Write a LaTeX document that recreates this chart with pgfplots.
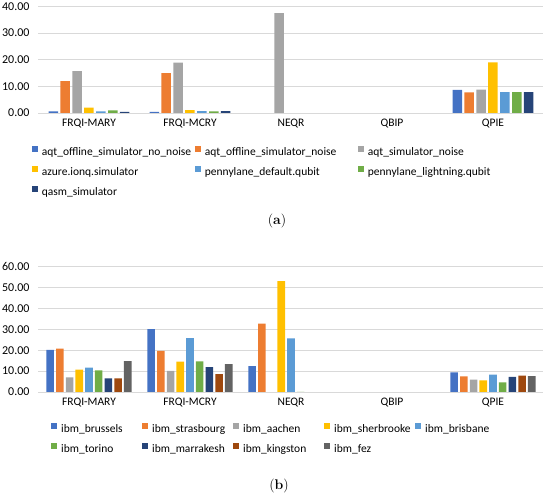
\documentclass[border=0pt]{standalone}
\usepackage{fontspec}
\setsansfont{Carlito}
\usepackage{pgfplots}
\pgfplotsset{compat=1.18}
\definecolor{cA}{HTML}{4472C4}
\definecolor{cB}{HTML}{ED7D31}
\definecolor{cC}{HTML}{A5A5A5}
\definecolor{cD}{HTML}{FFC000}
\definecolor{cE}{HTML}{5B9BD5}
\definecolor{cF}{HTML}{70AD47}
\definecolor{cG}{HTML}{264478}
\definecolor{cH}{HTML}{9E480E}
\definecolor{cI}{HTML}{636363}
\definecolor{gridc}{HTML}{D9D9D9}
\newcommand{\chartfont}{\sffamily\fontsize{11.5}{13}\selectfont}
\newcommand{\tickfont}{\sffamily\fontsize{12}{14}\selectfont}
\pgfplotsset{
  sqleg/.style={draw=none, legend image code/.code={\fill[##1] (0pt,0pt) rectangle (6pt,6pt);}},
  common/.style={
    scale only axis, width=505pt,
    xmin=-0.5, xmax=4.5, ymin=0,
    xtick={0,1,2,3,4},
    xticklabels={FRQI-MARY,FRQI-MCRY,NEQR,QBIP,QPIE},
    axis line style={draw=none},
    major tick length=0pt,
    ymajorgrids, grid style={gridc, line width=0.9pt},
    tick label style={font=\tickfont},
    xticklabel style={font=\chartfont},
    yticklabel style={xshift=-5.5pt, /pgf/number format/.cd, fixed, fixed zerofill, precision=2, assume math mode=true},
    xticklabel style={yshift=-2.5pt},
    legend cell align=left,
    legend style={draw=none, fill=none, inner sep=0pt, anchor=north west, font=\chartfont,
      nodes={inner ysep=0pt, inner xsep=4pt, text height=10pt, text depth=3pt},
      /tikz/row sep=7pt},
  }
}
\begin{document}
\begin{tikzpicture}
\useasboundingbox (0,0) rectangle (550pt,494pt);
% ---------- (a)
\begin{axis}[common,
  at={(38.5pt,381pt)}, anchor=south west,
  height=106.5pt, ymax=40, ytick={0,10,20,30,40},
  ybar=2.4pt, bar width=9.5pt,
  legend columns=3,
  legend style={at={(axis description cs:-0.0135,-0.305)}},
]
\addplot[sqleg, fill=cA] coordinates {(0,0.6) (1,0.4) (4,8.7)};
\addlegendentry{\makebox[149pt][l]{aqt\_offline\_simulator\_no\_noise}}
\addplot[sqleg, fill=cB] coordinates {(0,12.0) (1,15.0) (4,7.7)};
\addlegendentry{\makebox[149pt][l]{aqt\_offline\_simulator\_noise}}
\addplot[sqleg, fill=cC] coordinates {(0,15.7) (1,18.9) (2,37.5) (4,8.8)};
\addlegendentry{\makebox[149pt][l]{aqt\_simulator\_noise}}
\addplot[sqleg, fill=cD] coordinates {(0,2.0) (1,1.1) (4,19.0)};
\addlegendentry{\makebox[149pt][l]{azure.ionq.simulator}}
\addplot[sqleg, fill=cE] coordinates {(0,0.6) (1,0.7) (4,7.8)};
\addlegendentry{\makebox[149pt][l]{pennylane\_default.qubit}}
\addplot[sqleg, fill=cF] coordinates {(0,1.0) (1,0.6) (4,7.8)};
\addlegendentry{\makebox[149pt][l]{pennylane\_lightning.qubit}}
\addplot[sqleg, fill=cG] coordinates {(0,0.4) (1,0.7) (4,7.8)};
\addlegendentry{\makebox[149pt][l]{qasm\_simulator}}
\end{axis}
% ---------- (b)
\begin{axis}[common,
  at={(38.5pt,102pt)}, anchor=south west,
  height=125.4pt, ymax=60, ytick={0,10,20,30,40,50,60},
  ybar=2.1pt, bar width=7.6pt,
  legend columns=5,
  legend style={at={(axis description cs:0.0248,-0.245)}},
]
\addplot[sqleg, fill=cA] coordinates {(0,20.2) (1,30.1) (2,12.4) (4,9.4)};
\addlegendentry{\makebox[77pt][l]{ibm\_brussels}}
\addplot[sqleg, fill=cB] coordinates {(0,20.7) (1,19.7) (2,32.7) (4,7.5)};
\addlegendentry{\makebox[77pt][l]{ibm\_strasbourg}}
\addplot[sqleg, fill=cC] coordinates {(0,7.0) (1,10.1) (4,5.9)};
\addlegendentry{\makebox[77pt][l]{ibm\_aachen}}
\addplot[sqleg, fill=cD] coordinates {(0,10.7) (1,14.5) (2,53.1) (4,5.6)};
\addlegendentry{\makebox[77pt][l]{ibm\_sherbrooke}}
\addplot[sqleg, fill=cE] coordinates {(0,11.7) (1,25.8) (2,25.7) (4,8.3)};
\addlegendentry{\makebox[77pt][l]{ibm\_brisbane}}
\addplot[sqleg, fill=cF] coordinates {(0,10.3) (1,14.6) (2,0.1) (4,4.6)};
\addlegendentry{\makebox[77pt][l]{ibm\_torino}}
\addplot[sqleg, fill=cG] coordinates {(0,6.5) (1,11.9) (4,7.2)};
\addlegendentry{\makebox[77pt][l]{ibm\_marrakesh}}
\addplot[sqleg, fill=cH] coordinates {(0,6.5) (1,8.6) (4,7.8)};
\addlegendentry{\makebox[77pt][l]{ibm\_kingston}}
\addplot[sqleg, fill=cI] coordinates {(0,14.8) (1,13.3) (4,7.6)};
\addlegendentry{\makebox[77pt][l]{ibm\_fez}}
\end{axis}
\node[font=\rmfamily\fontsize{14}{16}\selectfont] at (277pt,273pt) {(\textbf{a})};
\node[font=\rmfamily\fontsize{14}{16}\selectfont] at (279pt,8pt) {(\textbf{b})};
\end{tikzpicture}
\end{document}
